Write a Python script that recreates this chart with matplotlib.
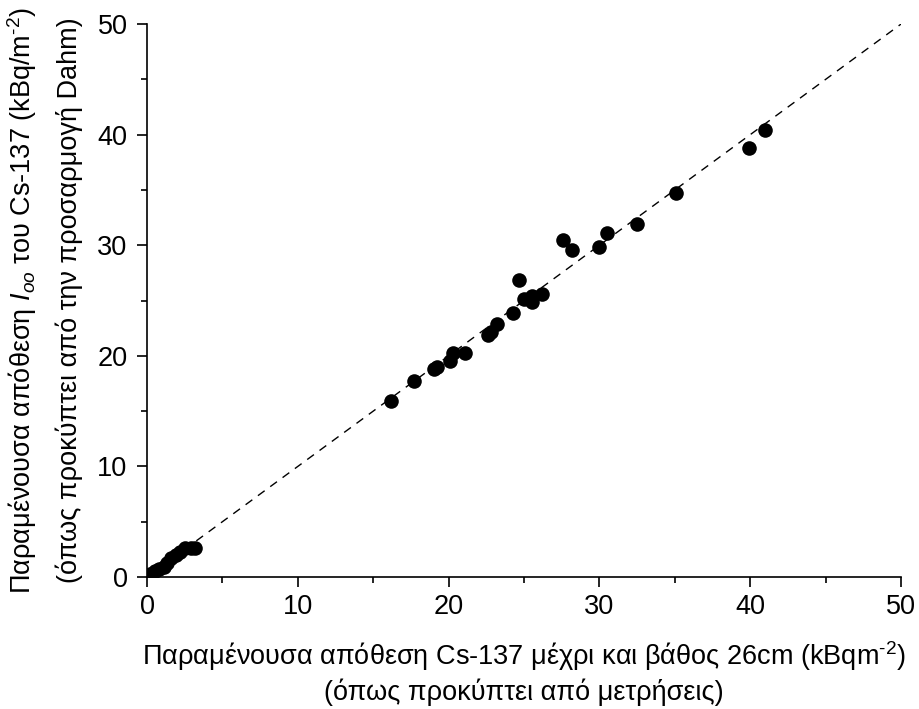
import matplotlib
matplotlib.use("Agg")
import matplotlib.pyplot as plt

plt.rcParams['font.family'] = ['Liberation Sans', 'DejaVu Sans']
plt.rcParams['mathtext.fontset'] = 'custom'
plt.rcParams['mathtext.rm'] = 'Liberation Sans'
plt.rcParams['mathtext.it'] = 'Liberation Sans:italic'

measured = [0.2, 0.5, 0.8, 1.1, 1.3, 1.6, 1.9, 2.2, 2.5, 2.9, 3.2,
            16.2, 17.7, 19.0, 19.2, 20.1, 20.3, 21.1, 22.6, 22.8, 23.2,
            24.3, 24.7, 25.0, 25.5, 25.5, 26.2, 27.6, 28.2, 30.0, 30.5,
            32.5, 35.1, 39.9, 41.0]
dahm = [0.3, 0.5, 0.7, 0.9, 1.3, 1.7, 2.0, 2.3, 2.6, 2.6, 2.6,
        15.9, 17.7, 18.8, 19.0, 19.5, 20.3, 20.3, 21.9, 22.2, 22.9,
        23.9, 26.9, 25.1, 25.4, 24.9, 25.6, 30.5, 29.6, 29.8, 31.1,
        31.9, 34.7, 38.8, 40.4]
line_x = [0, 50]
line_y = [0, 50]
ticks = [0, 10, 20, 30, 40, 50]

fig = plt.figure(figsize=(9.19, 7.09), dpi=100)
ax = fig.add_axes([0.16, 0.1862, 0.8204, 0.7798])

ax.plot(line_x, line_y, color='black', lw=1.0, dashes=(6, 5))
ax.plot(measured, dahm, 'o', color='black', markersize=10.5, markeredgewidth=0)

ax.set_xlim(0, 50)
ax.set_ylim(0, 50)
ax.set_xticks(ticks)
ax.set_yticks(ticks)
ax.set_xticks([5, 15, 25, 35, 45], minor=True)
ax.set_yticks([5, 15, 25, 35, 45], minor=True)
ax.spines['top'].set_visible(False)
ax.spines['right'].set_visible(False)
for s in ['left', 'bottom']:
    ax.spines[s].set_linewidth(1.2)
ax.tick_params(which='major', direction='out', length=7, width=1.2, labelsize=19.5)
ax.tick_params(axis='y', which='major', pad=7)
ax.tick_params(axis='x', which='major', pad=5)
ax.tick_params(which='minor', direction='out', length=4, width=1.2)

ax.set_xlabel("Παραμένουσα απόθεση Cs-137 μέχρι και βάθος 26cm (kBqm$^{\\text{-2}}$)\n(όπως προκύπτει από μετρήσεις)",
              fontsize=19.5, linespacing=1.25, labelpad=14)
ax.set_ylabel("Παραμένουσα απόθεση $I_{oo}$ του Cs-137 (kBq/m$^{\\text{-2}}$)\n(όπως προκύπτει από την προσαρμογή Dahm)",
              fontsize=19.5, linespacing=1.8, labelpad=10)

fig.savefig("out.png", dpi=100)
